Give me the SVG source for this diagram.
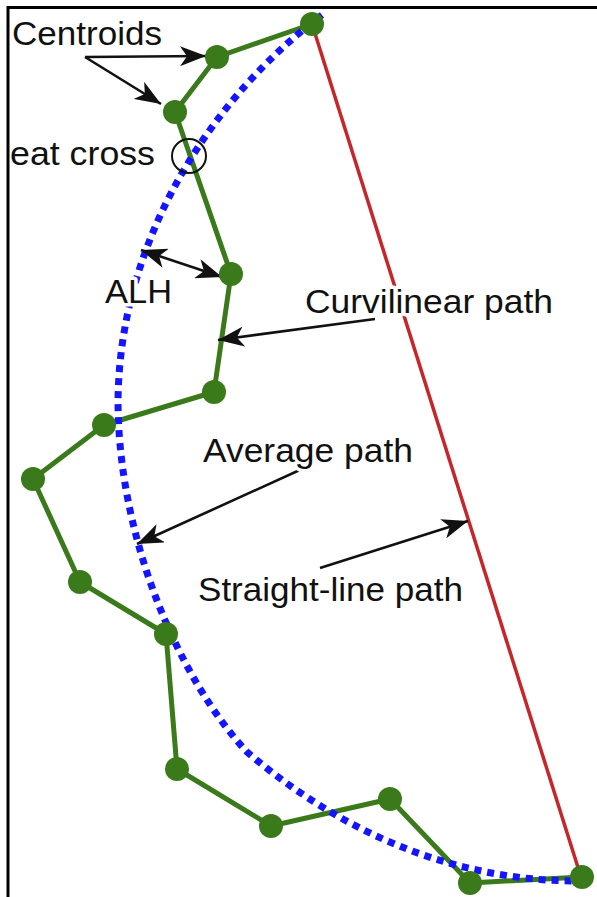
<svg xmlns="http://www.w3.org/2000/svg" width="597" height="897" viewBox="0 0 597 897">
<style>
.lbl{font-family:"Liberation Sans",Arial,sans-serif;font-size:34px;fill:#111;}
.halo{stroke:#fff;stroke-width:7px;paint-order:stroke;stroke-linejoin:round;}
.arr{stroke:#111;stroke-width:2.6;fill:none;}
.node{fill:#3b7a1b;}
.curv{fill:none;stroke:#3b7a1b;stroke-width:5;stroke-linejoin:round;}
.avg{fill:none;stroke:#1414ff;stroke-width:7;stroke-dasharray:7 6;}
.straight{stroke:#c4262a;stroke-width:3.5;}
</style>
<defs>
<marker id="ah" markerUnits="userSpaceOnUse" markerWidth="28" markerHeight="20" refX="26" refY="10" orient="auto">
<path d="M0,0 L26,10 L0,20 L7,10 z" fill="#111"/>
</marker>
<marker id="ahs" markerUnits="userSpaceOnUse" markerWidth="28" markerHeight="20" refX="26" refY="10" orient="auto-start-reverse">
<path d="M0,0 L26,10 L0,20 L7,10 z" fill="#111"/>
</marker>
</defs>
<rect x="0" y="0" width="597" height="897" fill="#fff"/>
<g id="frame" fill="none" stroke="#000" stroke-width="3">
<path d="M8,897 V7.5 H597"/>
</g>
<g id="connectors">
<line class="straight" x1="312" y1="24" x2="581" y2="877"/>
<polyline class="curv" points="312,24 217,57 175,112 231,274 214,392 104,425 33,479 80,582 166,634 177,769 271,826 390,799 470,883 582,877"/>
<path class="avg" d="M322,15 C215,95 120,235 118,400 C118,540 180,680 247,752 C337,829 450,882 582,881"/>
<line class="arr" x1="85" y1="57" x2="206" y2="56" marker-end="url(#ah)"/>
<line class="arr" x1="85" y1="57" x2="161" y2="104" marker-end="url(#ah)"/>
<line class="arr" x1="141" y1="250" x2="222" y2="277" marker-start="url(#ahs)" marker-end="url(#ah)"/>
<line class="arr" x1="375" y1="319" x2="218" y2="340" marker-end="url(#ah)"/>
<line class="arr" x1="302" y1="469" x2="137" y2="544" marker-end="url(#ah)"/>
<line class="arr" x1="320" y1="568" x2="468" y2="521" marker-end="url(#ah)"/>
<circle cx="189" cy="156" r="17" fill="none" stroke="#111" stroke-width="2"/>
</g>
<g id="nodes">
<circle id="n1" class="node" cx="312" cy="24" r="12"/>
<circle id="n2" class="node" cx="217" cy="57" r="12"/>
<circle id="n3" class="node" cx="175" cy="112" r="12"/>
<circle id="n4" class="node" cx="231" cy="274" r="12"/>
<circle id="n5" class="node" cx="214" cy="392" r="12"/>
<circle id="n6" class="node" cx="104" cy="425" r="12"/>
<circle id="n7" class="node" cx="33" cy="479" r="12"/>
<circle id="n8" class="node" cx="80" cy="582" r="12"/>
<circle id="n9" class="node" cx="166" cy="634" r="12"/>
<circle id="n10" class="node" cx="177" cy="769" r="12"/>
<circle id="n11" class="node" cx="271" cy="826" r="12"/>
<circle id="n12" class="node" cx="390" cy="799" r="12"/>
<circle id="n13" class="node" cx="470" cy="883" r="12"/>
<circle id="n14" class="node" cx="582" cy="877" r="12"/>
</g>
<g id="labels">
<text class="lbl" x="12" y="45" textLength="150" lengthAdjust="spacingAndGlyphs">Centroids</text>
<text class="lbl" x="10" y="165" textLength="145" lengthAdjust="spacingAndGlyphs">eat cross</text>
<text class="lbl halo" x="105" y="303" textLength="67" lengthAdjust="spacingAndGlyphs">ALH</text>
<text class="lbl halo" x="305" y="313" textLength="248" lengthAdjust="spacingAndGlyphs">Curvilinear path</text>
<text class="lbl halo" x="203" y="462" textLength="210" lengthAdjust="spacingAndGlyphs">Average path</text>
<text class="lbl halo" x="198" y="601" textLength="265" lengthAdjust="spacingAndGlyphs">Straight-line path</text>
</g>
</svg>
